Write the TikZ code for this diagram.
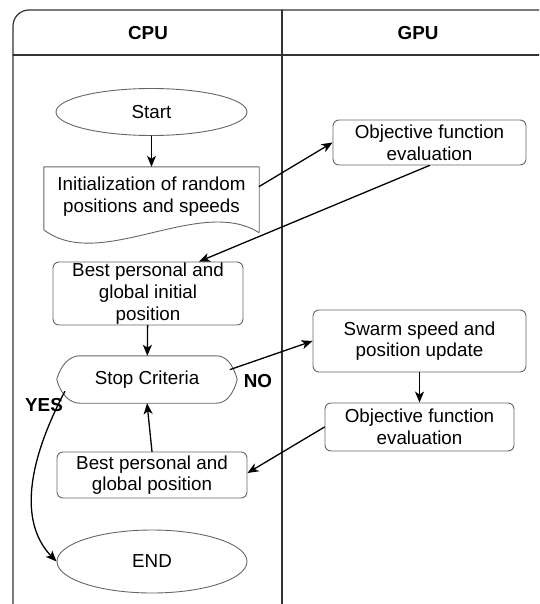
\documentclass[tikz,border=0pt]{standalone}
\usepackage{fontspec}
\setmainfont{Liberation Sans}
\usetikzlibrary{shapes.geometric,arrows.meta}
\begin{document}
\begin{tikzpicture}[x=1pt,y=-1pt,line join=round,line cap=round,
>={Stealth[length=11pt,width=9pt,inset=3pt]},
font=\fontsize{18.8}{21.7}\selectfont,
vien/.style={draw=black!60,line width=0.9pt},
hop/.style={vien,rounded corners=6pt,align=center,inner sep=0pt},
elip/.style={vien,ellipse,inner sep=0pt},
chu/.style={align=center,inner sep=0pt},
nhan/.style={inner sep=0pt,font=\fontsize{18.8}{21.7}\selectfont\bfseries},
muiten/.style={->,line width=1.3pt}]
\clip (0,0) rectangle (539,604);
\def\phai{556} % mép phải khung (ra ngoài hình)
\def\day{620} % mép dưới khung
\def\giua{282} % đường chia CPU | GPU
\draw[line width=1.2pt,draw=black!80,rounded corners=16pt] (13,10) rectangle (\phai,\day);
\draw[line width=1.2pt,draw=black!80] (13,55)--(\phai,55) (\giua,10)--(\giua,\day);
\path 
(148,33) node[nhan] (cpu) {CPU}
(418,33) node[nhan] (gpu) {GPU}
(151.5,112) node[elip,minimum width=191,minimum height=47] (start) {Start}
(151.5,196.5) node[chu,minimum width=215,minimum height=59] (init) {Initialization of random\\positions and speeds}
(429.5,142.5) node[hop,minimum width=193,minimum height=45] (obj1) {Objective function\\evaluation}
(148,293.5) node[hop,minimum width=190,minimum height=63] (best1) {Best personal and\\global initial\\position}
(147,379.5) node[chu,minimum width=180,minimum height=47] (stop) {Stop Criteria}
(419.5,341) node[hop,minimum width=213,minimum height=62] (swarm) {Swarm speed and\\position update}
(419.5,427) node[hop,minimum width=189,minimum height=48] (obj2) {Objective function\\evaluation}
(152,475) node[hop,minimum width=190,minimum height=46] (best2) {Best personal and\\global position}
(152,561.5) node[elip,minimum width=190,minimum height=63] (end) {END}
(258,381) node[nhan] (no) {NO}
(44,405) node[nhan] (yes) {YES};
% khung tài liệu (đáy lượn sóng)
\draw[vien] (init.north west)--(init.north east)--++(0,66) 
.. controls +(-59,-38) and +(56,43) .. ([yshift=-63pt]init.north west)--cycle;
% khung điều kiện dừng
\draw[vien] (stop.west) .. controls +(4,-15) and +(-10,0) .. ([xshift=23pt]stop.north west)
--([xshift=-21pt]stop.north east) .. controls +(10,0) and +(-4,-15) .. (stop.east)
.. controls +(-4,15) and +(10,0) .. ([xshift=-21pt]stop.south east)
--([xshift=23pt]stop.south west) .. controls +(-10,0) and +(4,15) .. (stop.west)--cycle;
\draw[muiten] (start)--(init);
\draw[muiten] ([yshift=10pt]init.east)--(obj1.west);
\draw[muiten] (obj1.south)--([xshift=51pt]best1.north);
\draw[muiten] (best1)--(stop);
\draw[muiten] ([xshift=-7pt,yshift=10pt]stop.east)--(swarm.west);
\draw[muiten] (swarm)--(obj2);
\draw[muiten] (obj2.west)--([yshift=2pt]best2.east);
\draw[muiten] (best2.north)--(stop.south);
\draw[muiten] ([xshift=8pt,yshift=-12pt]stop.west) .. controls +(-41,78) and +(-35,-36) .. (end.west);
\end{tikzpicture}
\end{document}
